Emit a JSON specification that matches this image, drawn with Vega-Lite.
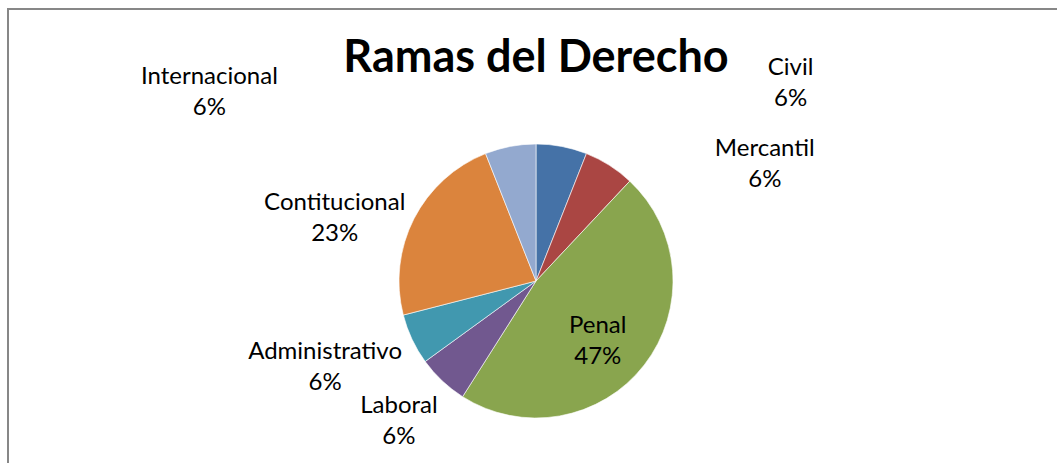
{
  "$schema": "https://vega.github.io/schema/vega-lite/v6.json",
  "width": 1056,
  "height": 544,
  "autosize": {"type": "none"},
  "padding": {"left": 8, "top": 9, "right": -7, "bottom": -90},
  "background": "white",
  "view": {"stroke": "#878787", "strokeWidth": 2, "fill": "white"},
  "title": {"text": "Ramas del Derecho", "font": "Lato", "fontSize": 45, "fontWeight": "bold", "color": "#000000", "anchor": "middle", "baseline": "alphabetic", "offset": -108},
  "data": {"values": [
    {"rama": "Civil", "share": 0.06, "orden": 1},
    {"rama": "Mercantil", "share": 0.06, "orden": 2},
    {"rama": "Penal", "share": 0.47, "orden": 3},
    {"rama": "Laboral", "share": 0.06, "orden": 4},
    {"rama": "Administrativo", "share": 0.06, "orden": 5},
    {"rama": "Contitucional", "share": 0.23, "orden": 6},
    {"rama": "Internacional", "share": 0.06, "orden": 7}
  ]},
  "transform": [
    {"stack": "share", "groupby": [], "sort": [{"field": "orden", "order": "ascending"}], "as": ["t0", "t1"]},
    {"calculate": "(datum.t0 + datum.t1) / 2", "as": "tm"},
    {"calculate": "datum.rama + '\\n' + format(datum.share, '.0%')", "as": "lbl"}
  ],
  "layer": [
    {
      "mark": {"type": "arc", "outerRadius": 137, "stroke": "#ffffff", "strokeWidth": 0.6},
      "encoding": {
        "theta": {"field": "t0", "type": "quantitative", "scale": {"domain": [0, 1], "range": [0, 6.283185307]}},
        "theta2": {"field": "t1"},
        "color": {"field": "rama", "type": "nominal", "legend": null,
          "scale": {"domain": ["Civil", "Mercantil", "Penal", "Laboral", "Administrativo", "Contitucional", "Internacional"],
                    "range": ["#4572A7", "#AA4643", "#89A54E", "#71588F", "#4198AF", "#DB843D", "#93A9CF"]}}
      }
    },
    {
      "transform": [{"filter": "datum.rama === 'Civil'"}],
      "mark": {"type": "text", "radius": 190, "dx": 219, "dy": -26, "font": "Lato", "fontSize": 24, "lineBreak": "\n", "lineHeight": 31, "align": "center", "baseline": "middle", "color": "#000000"},
      "encoding": {"theta": {"field": "tm", "type": "quantitative"}, "text": {"field": "lbl"}}
    },
    {
      "transform": [{"filter": "datum.rama === 'Mercantil'"}],
      "mark": {"type": "text", "radius": 190, "dx": 127, "dy": 28, "font": "Lato", "fontSize": 24, "lineBreak": "\n", "lineHeight": 31, "align": "center", "baseline": "middle", "color": "#000000"},
      "encoding": {"theta": {"field": "tm", "type": "quantitative"}, "text": {"field": "lbl"}}
    },
    {
      "transform": [{"filter": "datum.rama === 'Penal'"}],
      "mark": {"type": "text", "radius": 87, "dx": -7, "dy": -8, "font": "Lato", "fontSize": 24, "lineBreak": "\n", "lineHeight": 31, "align": "center", "baseline": "middle", "color": "#000000"},
      "encoding": {"theta": {"field": "tm", "type": "quantitative"}, "text": {"field": "lbl"}}
    },
    {
      "transform": [{"filter": "datum.rama === 'Laboral'"}],
      "mark": {"type": "text", "radius": 190, "dx": -7, "dy": -14, "font": "Lato", "fontSize": 24, "lineBreak": "\n", "lineHeight": 31, "align": "center", "baseline": "middle", "color": "#000000"},
      "encoding": {"theta": {"field": "tm", "type": "quantitative"}, "text": {"field": "lbl"}}
    },
    {
      "transform": [{"filter": "datum.rama === 'Administrativo'"}],
      "mark": {"type": "text", "radius": 190, "dx": -39, "dy": -10, "font": "Lato", "fontSize": 24, "lineBreak": "\n", "lineHeight": 31, "align": "center", "baseline": "middle", "color": "#000000"},
      "encoding": {"theta": {"field": "tm", "type": "quantitative"}, "text": {"field": "lbl"}}
    },
    {
      "transform": [{"filter": "datum.rama === 'Contitucional'"}],
      "mark": {"type": "text", "radius": 190, "dx": -32, "dy": 8, "font": "Lato", "fontSize": 24, "lineBreak": "\n", "lineHeight": 31, "align": "center", "baseline": "middle", "color": "#000000"},
      "encoding": {"theta": {"field": "tm", "type": "quantitative"}, "text": {"field": "lbl"}}
    },
    {
      "transform": [{"filter": "datum.rama === 'Internacional'"}],
      "mark": {"type": "text", "radius": 190, "dx": -291, "dy": -17, "font": "Lato", "fontSize": 24, "lineBreak": "\n", "lineHeight": 31, "align": "center", "baseline": "middle", "color": "#000000"},
      "encoding": {"theta": {"field": "tm", "type": "quantitative"}, "text": {"field": "lbl"}}
    }
  ]
}
